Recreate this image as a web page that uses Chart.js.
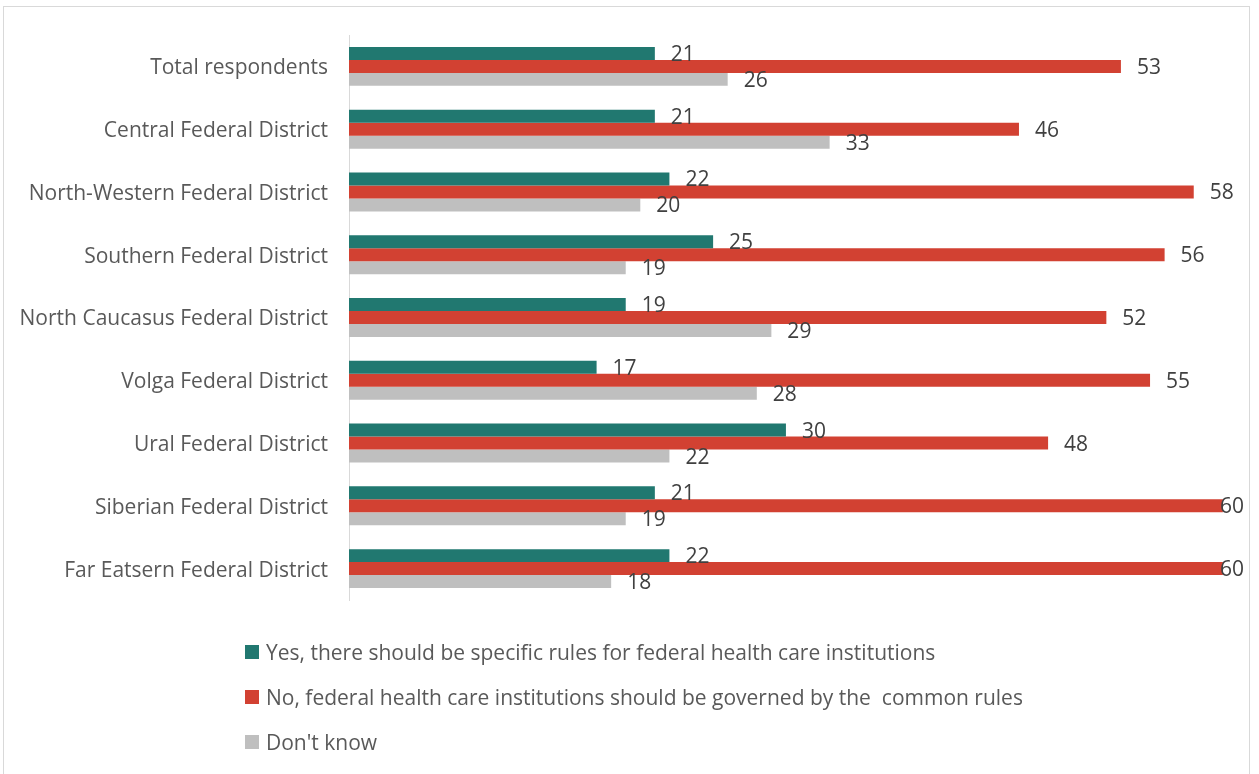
<!DOCTYPE html>
<html>
<head>
<meta charset="utf-8">
<script src="https://cdn.jsdelivr.net/npm/chart.js@4.4.1/dist/chart.umd.min.js"></script>
<style>
    html, body { margin: 0; padding: 0; background: #fff; }
    #wrap { position: relative; width: 1259px; height: 774px; overflow: hidden; }
    #frame {
        position: absolute; left: 3px; top: 6px; width: 1247px; height: 780px;
        border: 1px solid #d9d9d9; box-sizing: border-box;
    }
    #chart { position: absolute; left: 0; top: 0; }
    #legend {
        position: absolute; left: 245px; top: 638px; margin: 0; padding: 0;
        list-style: none; font-family: "Open Sans", sans-serif; font-size: 21px; color: #595959;
        white-space: pre;
    }
    #legend li { height: 45px; line-height: 28px; display: flex; align-items: flex-start; }
    #legend span.box { display: inline-block; width: 14px; height: 14px; margin: 7px 7px 0 0; }
</style>
</head>
<body>
<div id="wrap">
    <div id="frame"></div>
    <canvas id="chart" width="1259" height="774"></canvas>
    <ul id="legend"></ul>
</div>
<script>
const districts = [
    'Total respondents',
    'Central Federal District',
    'North-Western Federal District',
    'Southern Federal District',
    'North Caucasus Federal District',
    'Volga Federal District',
    'Ural Federal District',
    'Siberian Federal District',
    'Far Eatsern Federal District'
];

const yesValues = [21, 21, 22, 25, 19, 17, 30, 21, 22];
const noValues = [53, 46, 58, 56, 52, 55, 48, 60, 60];
const dontKnowValues = [26, 33, 20, 19, 29, 28, 22, 19, 18];

const seriesNames = [
    'Yes, there should be specific rules for federal health care institutions',
    'No, federal health care institutions should be governed by the  common rules',
    "Don't know"
];
const seriesColors = ['#217870', '#d24132', '#bfbfbf'];

const FONT = '"Open Sans", sans-serif';

// value labels to the right of each bar, kept inside the frame
const barLabels = {
    id: 'barLabels',
    afterDatasetsDraw(chart) {
        const ctx = chart.ctx;
        ctx.save();
        ctx.font = '21px ' + FONT;
        ctx.fillStyle = '#404040';
        ctx.textAlign = 'left';
        ctx.textBaseline = 'middle';
        chart.data.datasets.forEach((ds, i) => {
            chart.getDatasetMeta(i).data.forEach((bar, j) => {
                const text = String(ds.data[j]);
                const w = ctx.measureText(text).width;
                let x = bar.x + 16;
                if (x + w > 1244) x = 1244 - w;
                ctx.fillText(text, x, bar.y + 1.5);
            });
        });
        ctx.restore();
    }
};

const chart = new Chart(document.getElementById('chart'), {
    type: 'bar',
    data: {
        labels: districts,
        datasets: [yesValues, noValues, dontKnowValues].map((values, i) => ({
            label: seriesNames[i],
            data: values,
            backgroundColor: seriesColors[i],
            categoryPercentage: 0.62,
            barPercentage: 1.0,
        }))
    },
    options: {
        indexAxis: 'y',
        responsive: false,
        animation: false,
        layout: { padding: { left: 0, right: 7, top: 35, bottom: 174 } },
        plugins: {
            legend: { display: false },
            tooltip: { enabled: false },
        },
        scales: {
            x: {
                display: false,
                min: 0,
                max: 62,
            },
            y: {
                afterFit: (scale) => { scale.width = 349; },
                grid: { display: false },
                border: { display: true, color: '#d9d9d9', width: 1 },
                ticks: {
                    padding: 13,
                    labelOffset: 2,
                    color: '#595959',
                    font: { family: FONT, size: 21 },
                },
            },
        },
    },
    plugins: [barLabels],
});

// legend stacked under the plot
const legendList = document.getElementById('legend');
chart.data.datasets.forEach((ds) => {
    const li = document.createElement('li');
    const box = document.createElement('span');
    box.className = 'box';
    box.style.background = ds.backgroundColor;
    li.appendChild(box);
    li.appendChild(document.createTextNode(ds.label));
    legendList.appendChild(li);
});
</script>
</body>
</html>
